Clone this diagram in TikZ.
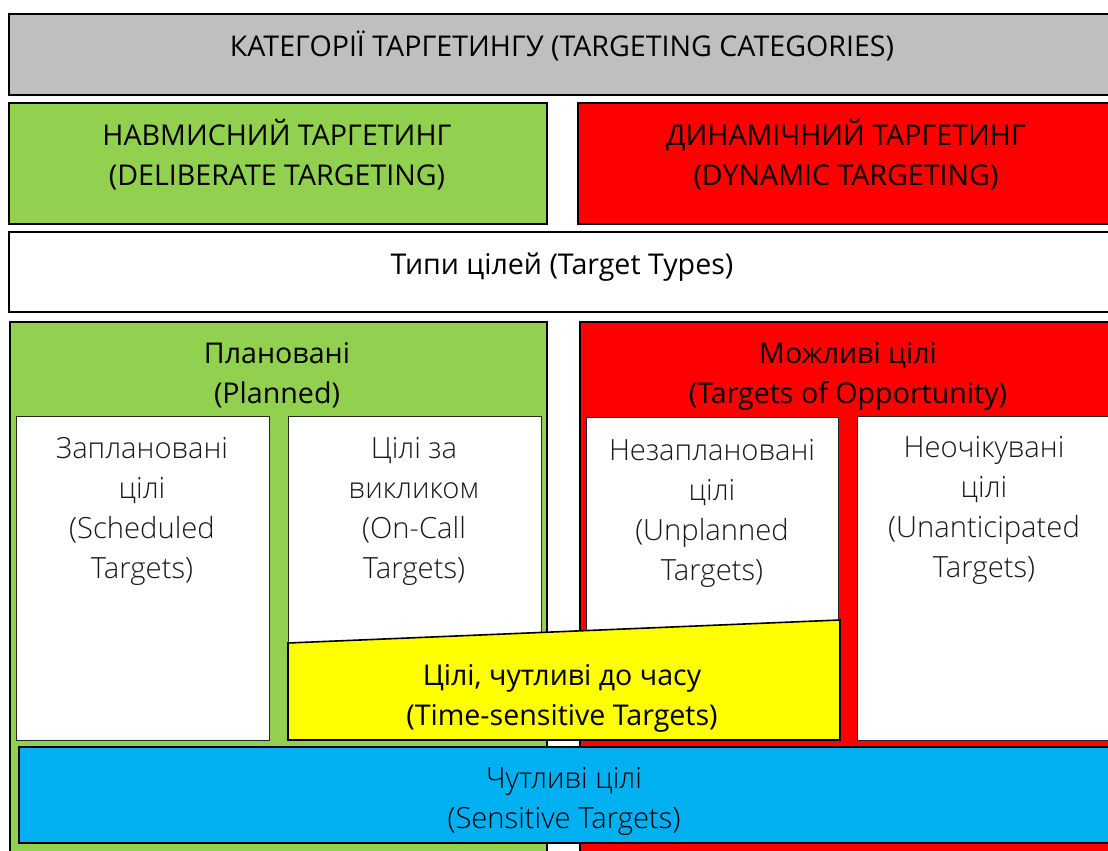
\documentclass[tikz,border=0pt]{standalone}
\usepackage{fontspec}
\setmainfont{Open Sans}
\newfontfamily\lightfont{Open Sans Light}
\definecolor{cgrey}{HTML}{BFBFBF}
\definecolor{cgreen}{HTML}{92D050}
\definecolor{cred}{HTML}{FF0000}
\definecolor{cyellow}{HTML}{FFFF00}
\definecolor{cblue}{HTML}{00B0F0}
\definecolor{ctext}{HTML}{1A1A1A}
\begin{document}
\begin{tikzpicture}[x=1pt,y=-1pt,
  box/.style={draw=black,line width=1.6pt,rectangle,inner sep=0pt,anchor=north west},
  inbox/.style={draw=black!85,line width=1.3pt,fill=white,rectangle,inner sep=0pt,anchor=north west},
  lbl/.style={font=\fontsize{28.6}{40}\selectfont,align=center,anchor=base,inner sep=0pt},
  llbl/.style={font=\fontsize{29.2}{40}\selectfont\lightfont,align=center,anchor=base,inner sep=0pt,text=ctext}]
\useasboundingbox (0,0) rectangle (1108,851);
\clip (0,0) rectangle (1108,851);
% boxes
\node[box,fill=cgrey,minimum width=1110pt,minimum height=81pt] (cat) at (8,13) {};
\node[box,fill=cgreen,minimum width=538pt,minimum height=121pt] (delib) at (8,102) {};
\node[box,fill=cred,minimum width=540pt,minimum height=121pt] (dyn) at (577,102) {};
\node[box,fill=white,minimum width=1110pt,minimum height=80pt] (types) at (8,231) {};
\node[box,fill=cgreen,minimum width=537pt,minimum height=540pt] (plan) at (9,321) {};
\node[box,fill=cred,minimum width=540pt,minimum height=540pt] (opp) at (579,321) {};
\node[inbox,minimum width=253pt,minimum height=324pt] (sched) at (16,416) {};
\node[inbox,minimum width=253pt,minimum height=324pt] (oncall) at (288,416) {};
\node[inbox,minimum width=252pt,minimum height=323pt] (unpl) at (586,417) {};
\node[inbox,minimum width=260pt,minimum height=324pt] (unant) at (857,416) {};
\path[draw=black,line width=1.6pt,fill=cyellow] (288,643) -- (840,620) -- (840,740) -- (288,740) -- cycle;
\node[box,fill=cblue,minimum width=1100pt,minimum height=96pt] (sens) at (18,746) {};
% labels
\node[lbl] (tcat) at (562,57) {КАТЕГОРІЇ ТАРГЕТИНГУ (TARGETING CATEGORIES)};
\node[lbl] (tdelib) at (277,185) {НАВМИСНИЙ ТАРГЕТИНГ\\(DELIBERATE TARGETING)};
\node[lbl] (tdyn) at (846,185) {ДИНАМІЧНИЙ ТАРГЕТИНГ\\(DYNAMIC TARGETING)};
\node[lbl] (ttypes) at (562,274) {Типи цілей (Target Types)};
\node[lbl] (tplan) at (277,403) {Плановані\\(Planned)};
\node[lbl] (topp) at (848,403) {Можливі цілі\\(Targets of Opportunity)};
\node[llbl] (tsched) at (142,578) {Заплановані\\цілі\\(Scheduled\\Targets)};
\node[llbl] (toncall) at (414,578) {Цілі за\\викликом\\(On-Call\\Targets)};
\node[llbl] (tunpl) at (712,580) {Незаплановані\\цілі\\(Unplanned\\Targets)};
\node[llbl] (tunant) at (984,577) {Неочікувані\\цілі\\(Unanticipated\\Targets)};
\node[lbl] (ttime) at (562,725) {Цілі, чутливі до часу\\(Time-sensitive Targets)};
\node[llbl,text=black] (tsens) at (564,828) {Чутливі цілі\\(Sensitive Targets)};
\end{tikzpicture}
\end{document}
